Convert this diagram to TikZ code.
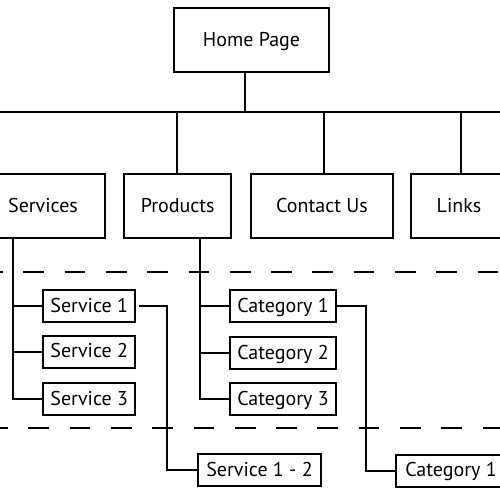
\documentclass[tikz,border=0pt]{standalone}
\usepackage{fontspec}
\setmainfont{PT Sans}
\begin{document}
\begin{tikzpicture}[x=1pt,y=-1pt,line width=1.8pt,
  box/.style={draw,line width=1.8pt,inner sep=0pt,font=\fontsize{20}{24}\selectfont,text height=12.5pt,text depth=0pt},
  bigbox/.style={box,minimum height=64pt},
  smallbox/.style={box,minimum height=32pt},
  dashline/.style={dash pattern=on 20.7pt off 20.6pt,line width=1.8pt}]
\useasboundingbox (0,0) rectangle (500,500);
\begin{scope}
\clip (0,0) rectangle (500,500);
% boxes
\node[bigbox,minimum width=155pt] (home) at (251.5,40) {Home Page};
\node[bigbox,minimum width=124pt] (services) at (43,206) {Services};
\node[bigbox,minimum width=107pt] (products) at (177.7,206) {Products};
\node[bigbox,minimum width=142pt] (contact) at (322,206) {Contact Us};
\node[bigbox,minimum width=96pt] (links) at (459,206) {Links};
\node[smallbox,minimum width=91.7pt] (s1) at (89.2,306) {Service 1};
\node[smallbox,minimum width=91.7pt] (s2) at (89.2,351.7) {Service 2};
\node[smallbox,minimum width=91.7pt] (s3) at (89.2,399.3) {Service 3};
\node[smallbox,minimum width=106pt] (c1) at (283,306) {Category 1};
\node[smallbox,minimum width=106pt] (c2) at (283,352.8) {Category 2};
\node[smallbox,minimum width=106pt] (c3) at (283,399.3) {Category 3};
\node[smallbox,minimum width=122.4pt] (s12) at (259.5,470) {Service 1 - 2};
\node[smallbox,minimum width=110pt] (c1b) at (451,470.7) {Category 1};
% helper coordinates
\coordinate (tl) at (0,112);
\coordinate (tr) at (500,112);
\coordinate (sx) at (13.3,0);
\coordinate (px) at (200,0);
\coordinate (sj) at (167.3,0);
\coordinate (cj) at (365.7,0);
\coordinate (d1a) at (-18,272.3);
\coordinate (d1b) at (520,272.3);
\coordinate (d2a) at (-13,428.3);
\coordinate (d2b) at (520,428.3);
% dashed separators
\draw[dashline] (d1a) -- (d1b);
\draw[dashline] (d2a) -- (d2b);
% top tree
\draw (tl) -- (tr);
\draw ([xshift=-6.2pt]home.south) -- ([xshift=-6.2pt]home.south |- tl);
\draw ([xshift=-1pt]products.north) -- ([xshift=-1pt]products.north |- tl);
\draw ([xshift=2pt]contact.north) -- ([xshift=2pt]contact.north |- tl);
\draw ([xshift=2.3pt]links.north) -- ([xshift=2.3pt]links.north |- tl);
% services branch
\draw (services.south -| sx) |- (s3.west);
\draw (s1.west -| sx) -- (s1.west);
\draw (s2.west -| sx) -- (s2.west);
% products branch
\draw (products.south -| px) |- (c3.west);
\draw (c1.west -| px) -- (c1.west);
\draw (c2.west -| px) -- (c2.west);
% deeper links
\draw ([xshift=3pt]s1.east) -- (s1.east -| sj) |- (s12.west);
\draw (c1.east) -- (c1.east -| cj) |- (c1b.west);
\end{scope}
\end{tikzpicture}
\end{document}
